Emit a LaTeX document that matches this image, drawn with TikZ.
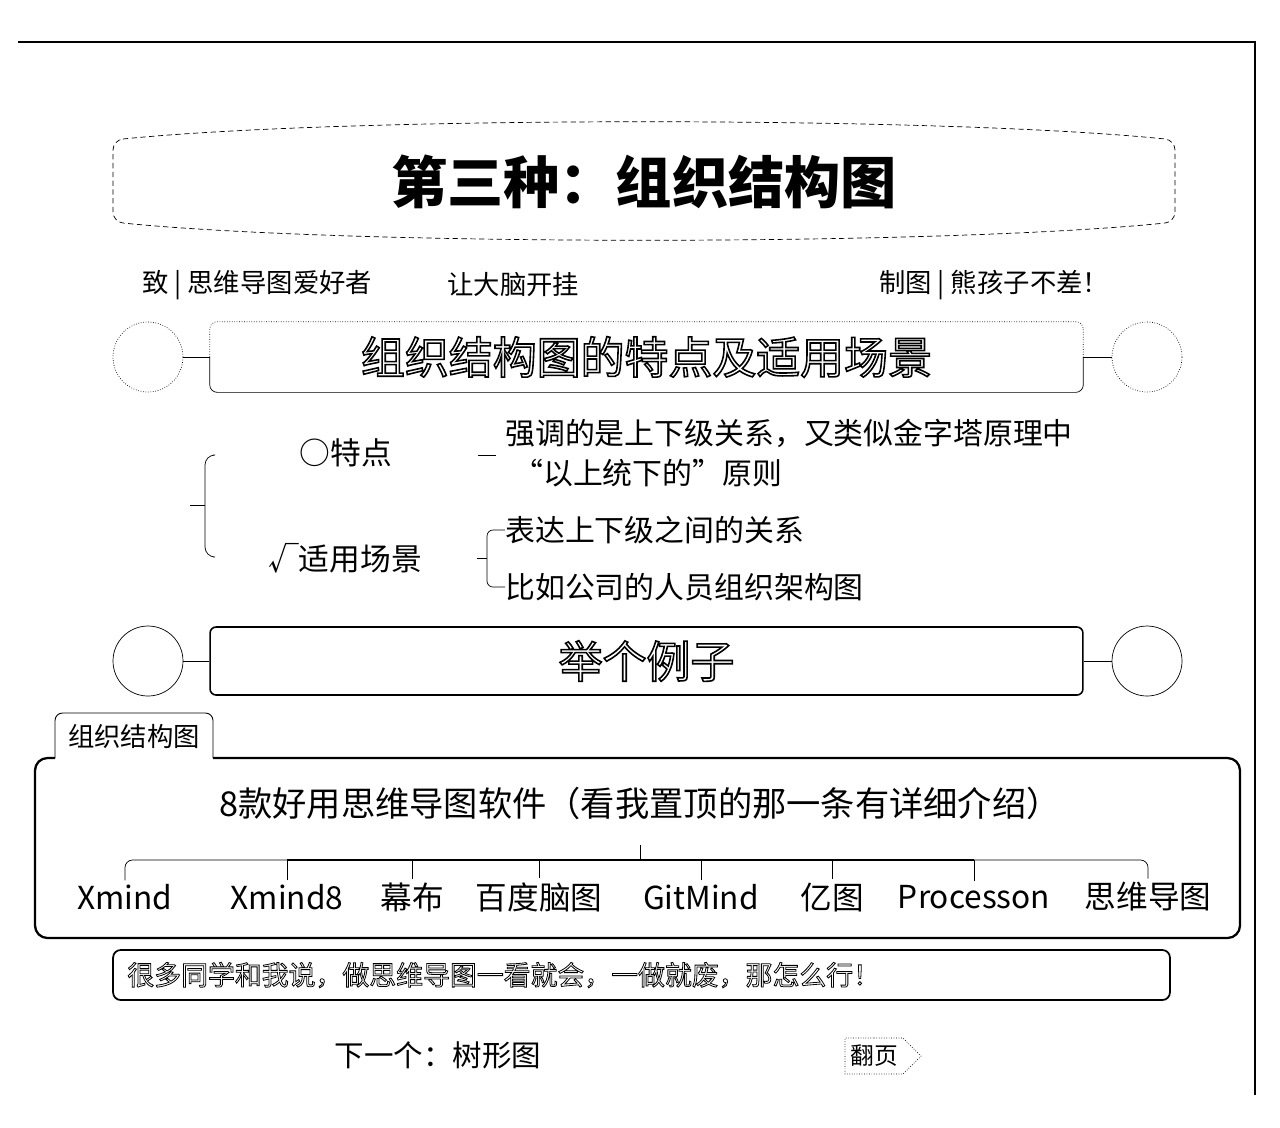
\documentclass[tikz,border=0pt]{standalone}
\usepackage{fontspec}
\setmainfont{Noto Sans CJK SC}
\usetikzlibrary{positioning,calc,shapes.symbols}
\newcommand{\hollow}[2][0.9]{\special{pdf:literal direct 1 Tr #1 w}#2\special{pdf:literal direct 0 Tr}}

\begin{document}
\begin{tikzpicture}[x=0.02cm,y=-0.02cm,
  ring/.style={draw,circle,minimum size=1.4cm,inner sep=0pt},
  headbox/.style={minimum width=17.46cm,minimum height=1.4cm,inner sep=0pt,
    font=\fontsize{25}{28}\selectfont},
  linetxt/.style={font=\fontsize{15}{17}\selectfont,anchor=west,inner sep=0pt},
  ptxt/.style={font=\fontsize{17}{20}\selectfont,anchor=west,inner sep=0pt},
  softname/.style={font=\fontsize{18}{20}\selectfont,inner sep=2pt}]
\pgfmathsetmacro{\lx}{148}
\pgfmathsetmacro{\rx}{1147}

\useasboundingbox (0,0) rectangle (1280,1127);

% frame
\draw[line width=0.8pt] (18,42) -- (1255,42) -- (1255,1095);

% title
\draw[densely dashed,rounded corners=0.2cm]
(113,140) .. controls (350,116) and (940,116) .. (1175,140) -- (1175,222)
.. controls (940,246) and (350,246) .. (113,222) -- cycle;
\node[font=\fontsize{32}{36}\selectfont\bfseries] (title) at (644,182) {第三种：组织结构图};

\node[linetxt] (fans) at (142,285) {致 | 思维导图爱好者};
\node[linetxt] (brain) at (447,285) {让大脑开挂};
\node[linetxt] (maker) at (879,285) {制图 | 熊孩子不差！};

% first header
\node[headbox] (h1) at (646.5,357) {\hollow{组织结构图的特点及适用场景}};
\node[ring,densely dotted] (l1) at (\lx,357) {};
\node[ring,densely dotted] (r1) at (\rx,357) {};
\draw (l1) -- (h1);
\draw (h1) -- (r1);
\draw[rounded corners=0.15cm] (h1.west) |- (h1.south) -| (h1.east);
\draw[densely dotted,rounded corners=0.15cm] (h1.west) |- (h1.north) -| (h1.east);

% features and use
\node[font=\fontsize{17.5}{20}\selectfont] (td) at (346,453) {○特点};
\node[font=\fontsize{17.5}{20}\selectfont] (sy) at (345,558) {√适用场景};
\coordinate (root) at (190,505);
\draw[rounded corners=0.2cm] (213,455) -| (205,505) |- (213,557);
\draw (root) -- (205,505);

\node[ptxt] (qd1) at (505,433) {强调的是上下级关系，又类似金字塔原理中};
\node[ptxt] (qd2) at (513,473) {“以上统下的”原则};
\draw (478,455) -- (496,455);

\node[ptxt] (bd1) at (505,530) {表达上下级之间的关系};
\node[ptxt] (bd2) at (505,587) {比如公司的人员组织架构图};
\draw[rounded corners=0.12cm] (bd1.west) -| (487,558) |- (bd2.west);
\draw (477,558) -- (487,558);

% second header
\node[headbox,draw,line width=0.9pt,rounded corners=0.12cm,minimum height=1.36cm]
(h2) at (646.5,661) {\hollow{举个例子}};
\node[ring] (l2) at (\lx,661) {};
\node[ring] (r2) at (\rx,661) {};
\draw (l2) -- (h2);
\draw (h2) -- (r2);

% example box
\draw[line width=1.3pt,rounded corners=0.25cm]
(213,758) -- (1240,758) -- (1240,938) -- (35,938) -- (35,758) -- (55,758);
\draw[line width=0.5pt,rounded corners=0.15cm] (55,758) -- (55,713) -- (213,713) -- (213,758);
\node[font=\fontsize{15}{18}\selectfont] (tab) at (134,736) {组织结构图};

\node[font=\fontsize{19.5}{22}\selectfont] (soft) at (640,803)
{8款好用思维导图软件（看我置顶的那一条有详细介绍）};
\foreach \n/\x/\t in {1/125/Xmind,2/287/Xmind8,3/412/幕布,4/539/百度脑图,
  5/701/GitMind,6/832/亿图,7/974/Processon,8/1148/思维导图}
  \node[softname] (c\n) at (\x,897) {\t};

\coordinate (stem) at (640,845);
\coordinate (bus) at (640,860);
\draw (stem) -- (bus);
\draw[rounded corners=0.15cm] (c1.north) |- (bus) -| (c8.north);
\draw[line width=1.2pt] (c2.north |- bus) -- (c7.north |- bus);
\foreach \n in {2,...,7}
  \draw (c\n.north) -- (c\n.north |- bus);

% tip banner
\node[draw,line width=1pt,rounded corners=0.15cm,minimum width=21.14cm,minimum height=1cm]
(tip) at (641.5,975) {};
\node[anchor=west,inner sep=0pt,font=\fontsize{15.3}{18}\selectfont] (tiptxt) at (127,975)
{\hollow[0.45]{很多同学和我说，做思维导图一看就会，一做就废，那怎么行！}};

% footer
\node[font=\fontsize{16.8}{19}\selectfont] (next) at (438,1055) {下一个：树形图};
\node[signal,signal to=east,draw,densely dotted,inner sep=3pt,minimum height=0.72cm,
  font=\fontsize{13.5}{15}\selectfont] (page) at (874,1056) {翻页};
\end{tikzpicture}
\end{document}
